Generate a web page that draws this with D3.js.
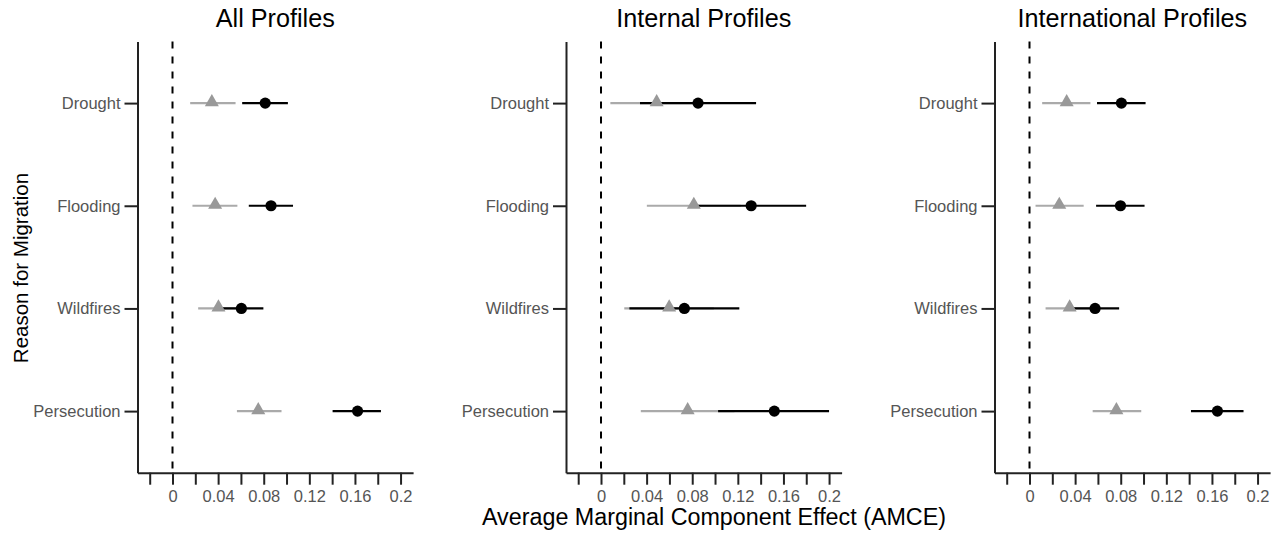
<!DOCTYPE html>
<html>
  <head>
    <meta charset="utf-8" />
    <title>AMCE by reason for migration</title>
    <style>
      body {
        margin: 0;
        background: #fff;
      }
      svg {
        display: block;
        font-family: "Liberation Sans", Arial, sans-serif;
      }
    </style>
  </head>
  <body>
    <svg id="chart"></svg>
    <script src="https://cdn.jsdelivr.net/npm/d3@7"></script>
    <script>
      const reasons = ["Drought", "Flooding", "Wildfires", "Persecution"];
      const panelTitles = ["All Profiles", "Internal Profiles", "International Profiles"];

      const xTicks = [-0.02, 0, 0.02, 0.04, 0.06, 0.08, 0.1, 0.12, 0.14, 0.16, 0.18, 0.2];
      const xTickLabels = ["", "0", "", "0.04", "", "0.08", "", "0.12", "", "0.16", "", "0.2"];

      // grey triangles, one row per panel, ordered as reasons
      const greyEst = [
        [0.0345, 0.0374, 0.0403, 0.0752],
        [0.0488, 0.0814, 0.0598, 0.076],
        [0.0326, 0.0261, 0.0352, 0.0762]
      ];
      const greyLo = [
        [0.0155, 0.0175, 0.0225, 0.0565],
        [0.0082, 0.0402, 0.0204, 0.0349],
        [0.0111, 0.0053, 0.0141, 0.0554]
      ];
      const greyHi = [
        [0.0553, 0.0569, 0.058, 0.0956],
        [0.0894, 0.1226, 0.099, 0.117],
        [0.0534, 0.0475, 0.056, 0.098]
      ];

      // black circles
      const blackEst = [
        [0.0813, 0.0864, 0.0604, 0.1623],
        [0.0851, 0.1317, 0.0731, 0.152],
        [0.0806, 0.0798, 0.0575, 0.1648]
      ];
      const blackLo = [
        [0.0611, 0.0669, 0.041, 0.1404],
        [0.0342, 0.0835, 0.0249, 0.1027],
        [0.0592, 0.0584, 0.0364, 0.1416]
      ];
      const blackHi = [
        [0.1012, 0.1057, 0.0797, 0.1828],
        [0.136, 0.1799, 0.1213, 0.2],
        [0.1018, 0.1009, 0.0786, 0.1877]
      ];

      const width = 1279;
      const height = 535;
      const panelLeft = [137.5, 566, 994.5];
      const panelW = 275.6;
      const yTop = 41.5;
      const yBottom = 472.7;

      const svg = d3.select("#chart").attr("width", width).attr("height", height);

      const x = d3.scaleLinear().domain([-0.0307, 0.211]).range([0, panelW]);
      const y = d3.scalePoint().domain(reasons).range([yTop, yBottom]).padding(0.6);

      const greyLine = "#aaaaaa";
      const greyFill = "#999999";
      const tri = d3.symbol().type(d3.symbolTriangle).size(85);

      panelTitles.forEach((title, p) => {
        const g = svg.append("g").attr("transform", `translate(${panelLeft[p]},0)`);

        g.append("text")
          .attr("x", panelW / 2)
          .attr("y", 27)
          .attr("text-anchor", "middle")
          .attr("font-size", 25.2)
          .attr("fill", "#000")
          .text(title);

        // zero reference line
        g.append("line")
          .attr("x1", x(0))
          .attr("x2", x(0))
          .attr("y1", yTop)
          .attr("y2", yBottom)
          .attr("stroke", "#000")
          .attr("stroke-width", 2)
          .attr("stroke-dasharray", "7,8");

        const rows = reasons.map((r, i) => ({
          r,
          gEst: greyEst[p][i],
          gLo: greyLo[p][i],
          gHi: greyHi[p][i],
          bEst: blackEst[p][i],
          bLo: blackLo[p][i],
          bHi: blackHi[p][i]
        }));

        g.selectAll(".gci")
          .data(rows)
          .join("line")
          .attr("class", "gci")
          .attr("x1", (d) => x(d.gLo))
          .attr("x2", (d) => x(d.gHi))
          .attr("y1", (d) => y(d.r))
          .attr("y2", (d) => y(d.r))
          .attr("stroke", greyLine)
          .attr("stroke-width", 2.2);

        g.selectAll(".bci")
          .data(rows)
          .join("line")
          .attr("class", "bci")
          .attr("x1", (d) => x(d.bLo))
          .attr("x2", (d) => x(d.bHi))
          .attr("y1", (d) => y(d.r))
          .attr("y2", (d) => y(d.r))
          .attr("stroke", "#000")
          .attr("stroke-width", 2.2);

        g.selectAll(".gpt")
          .data(rows)
          .join("path")
          .attr("class", "gpt")
          .attr("d", tri)
          .attr("transform", (d) => `translate(${x(d.gEst)},${y(d.r) - 1})`)
          .attr("fill", greyFill);

        g.selectAll(".bpt")
          .data(rows)
          .join("circle")
          .attr("class", "bpt")
          .attr("cx", (d) => x(d.bEst))
          .attr("cy", (d) => y(d.r))
          .attr("r", 5.6)
          .attr("fill", "#000");

        // axes
        const xAxis = g.append("g")
          .attr("transform", `translate(0,${yBottom})`)
          .call(
            d3.axisBottom(x)
              .tickValues(xTicks)
              .tickFormat((d, i) => xTickLabels[i])
              .tickSize(12)
              .tickSizeOuter(0)
              .tickPadding(6)
          );

        const yAxis = g.append("g")
          .call(d3.axisLeft(y).tickSize(13).tickSizeOuter(0).tickPadding(4));

        [xAxis, yAxis].forEach((a) => {
          a.select(".domain").attr("stroke", "#222").attr("stroke-width", 2);
          a.selectAll(".tick line").attr("stroke", "#222").attr("stroke-width", 2);
          a.selectAll(".tick text")
            .attr("fill", "#555")
            .attr("font-size", 16.5)
            .attr("font-family", "Liberation Sans, Arial, sans-serif");
        });
      });

      svg.append("text")
        .attr("x", 714)
        .attr("y", 525)
        .attr("text-anchor", "middle")
        .attr("font-size", 23.3)
        .attr("fill", "#000")
        .text("Average Marginal Component Effect (AMCE)");

      svg.append("text")
        .attr("transform", "translate(27.5,268) rotate(-90)")
        .attr("text-anchor", "middle")
        .attr("font-size", 20.5)
        .attr("fill", "#000")
        .text("Reason for Migration");
    </script>
  </body>
</html>
